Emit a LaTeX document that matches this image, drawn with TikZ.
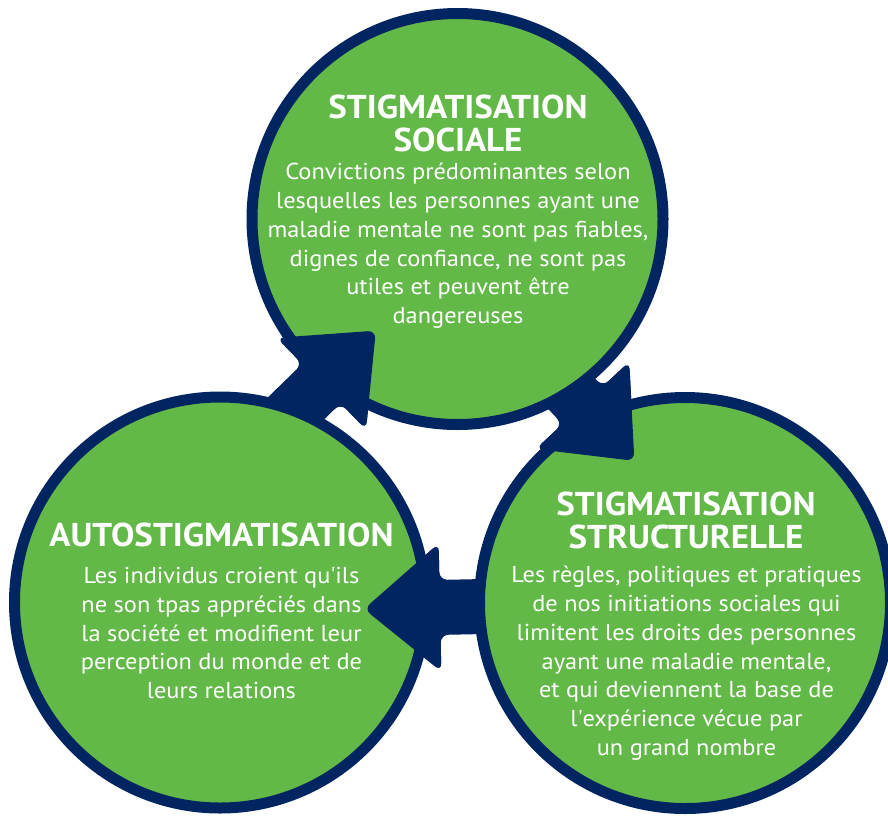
\documentclass[tikz,border=0pt]{standalone}
\usepackage{fontspec}
\setmainfont{PT Sans}[FakeStretch=1.06]
\usetikzlibrary{calc,backgrounds}

\definecolor{marine}{RGB}{0,37,96}
\definecolor{vert}{RGB}{99,185,72}

\def\bras{27.5}
\def\ltete{76}
\def\btete{64}
\def\fleche#1#2{
	\path let \p1=($(#2)-(#1)$) in \pgfextra{
		\pgfmathsetmacro\ang{atan2(\y1,\x1)}
		\pgfmathsetmacro\lon{veclen(\x1,\y1)}
		\xdef\ang{\ang}
		\xdef\lon{\lon}
	};
	\begin{pgfonlayer}{background}
		\fill[pfeil, shift={(#1)}, rotate=\ang] (-40,-\bras) -- ({\lon-\ltete},-\bras)
			-- ({\lon-\ltete},-\btete) -- (\lon,0) -- ({\lon-\ltete},\btete)
			-- ({\lon-\ltete},\bras) -- (-40,\bras) -- cycle;
	\end{pgfonlayer}
	\fill[pfeil, shift={(#1)}, rotate=\ang] ({\lon-\ltete},-\btete) -- (\lon,0)
		-- ({\lon-\ltete},\btete) -- cycle;
}

\begin{document}
\begin{tikzpicture}[x=1pt,y=-1pt,
	rond/.style={circle, draw=marine, line width=11pt, fill=vert,
		minimum size=411pt, inner sep=0pt, outer sep=0pt},
	pfeil/.style={fill=marine, rounded corners=8pt},
	titre/.style={text=white, font=\bfseries\fontsize{33}{33}\selectfont,
		align=center, inner sep=0pt, anchor=north},
	texte/.style={text=white, font=\fontsize{23}{28.8}\selectfont,
		align=center, inner sep=0pt, anchor=north}]

\useasboundingbox (0,0) rectangle (888,815);

\node[rond] (haut) at (457.5,219) {};
\node[rond] (gauche) at (220,602.5) {};
\node[rond] (droite) at (685,603) {};

\coordinate (p1) at (376,330.5);
\coordinate (p2) at (634.5,461);
\coordinate (p3) at (364,609);

\fleche{gauche.69.2}{p1}
\fleche{haut.-57.5}{p2}
\fleche{droite.181.7}{p3}

\node[titre] (tS) at (458,95) {STIGMATISATION\\SOCIALE};
\node[texte] (cS) at (458,163) {Convictions prédominantes selon\\
	lesquelles les personnes ayant une\\maladie mentale ne sont pas fiables,\\
	dignes de confiance, ne sont pas\\utiles et peuvent être\\dangereuses};

\node[titre] (tA) at (221.5,523) {AUTOSTIGMATISATION};
\node[texte] (cA) at (221.5,567) {Les individus croient qu\textquotesingle ils\\
	ne son tpas appréciés dans\\la société et modifient leur\\
	perception du monde et de\\leurs relations};

\node[titre] (tT) at (686,492) {STIGMATISATION\\STRUCTURELLE};
\node[texte] (cT) at (686.5,566) {Les règles, politiques et pratiques\\
	de nos initiations sociales qui\\limitent les droits des personnes\\
	ayant une maladie mentale,\\et qui deviennent la base de\\
	l\textquotesingle expérience vécue par\\un grand nombre};

\end{tikzpicture}
\end{document}
